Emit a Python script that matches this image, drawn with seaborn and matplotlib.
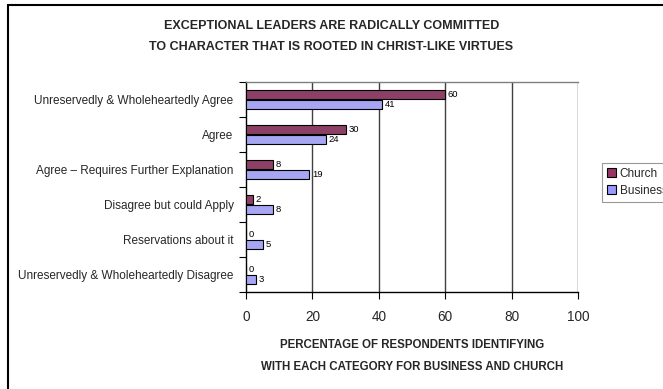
import matplotlib
matplotlib.use("Agg")
import matplotlib.pyplot as plt
import matplotlib.patches as mpatches
from matplotlib.ticker import FixedLocator
import seaborn as sns
import pandas as pd

sns.set_theme(style="white")
plt.rcParams["font.family"] = ["Liberation Sans", "DejaVu Sans"]

categories = [
    "Unreservedly & Wholeheartedly Agree",
    "Agree",
    "Agree \u2013 Requires Further Explanation",
    "Disagree but could Apply",
    "Reservations about it",
    "Unreservedly & Wholeheartedly Disagree",
]
church = [60, 30, 8, 2, 0, 0]
business = [41, 24, 19, 8, 5, 3]
series = ["Church", "Business"]
colors = ["#993366", "#9999FF"]
x_ticks = [0, 20, 40, 60, 80, 100]

df = pd.DataFrame({
    "category": categories * 2,
    "value": church + business,
    "series": ["Church"] * len(categories) + ["Business"] * len(categories),
})

fig = plt.figure(figsize=(6.63, 3.89), dpi=100)
ax = fig.add_axes([246 / 663, 1 - 292 / 389, (578 - 246) / 663, (292 - 82) / 389])

sns.barplot(
    data=df, y="category", x="value", hue="series", order=categories,
    hue_order=series, palette=colors, orient="h", width=0.57,
    edgecolor="black", linewidth=0.8, ax=ax, legend=False, zorder=3,
)

# value labels at the end of each bar
for cont in ax.containers:
    ax.bar_label(cont, labels=[f"{int(v)}" for v in cont.datavalues],
                 padding=2, fontsize=6.8, color="black")

ax.set_xlim(0, 100)
ax.set_ylim(len(categories) - 0.5, -0.5)
ax.set_xticks(x_ticks)
ax.set_xticklabels([str(t) for t in x_ticks], fontsize=9.8)
ax.tick_params(axis="x", direction="out", length=5, width=0.8, color="black",
               bottom=True, pad=8)
ax.tick_params(axis="y", which="major", length=0, pad=9, labelsize=8.5)
ax.yaxis.set_minor_locator(FixedLocator([i - 0.5 for i in range(len(categories) + 1)]))
ax.tick_params(axis="y", which="minor", direction="out", length=5, width=0.8,
               color="black", left=True)

for t in x_ticks[1:]:
    ax.axvline(t, color="#404040", linewidth=1, zorder=1)

for side in ["left", "bottom"]:
    ax.spines[side].set_color("black")
    ax.spines[side].set_linewidth(1)
ax.spines["top"].set_color("#808080")
ax.spines["top"].set_linewidth(1)
ax.spines["right"].set_visible(False)

ax.set_ylabel("")
ax.set_xlabel("PERCENTAGE OF RESPONDENTS IDENTIFYING\nWITH EACH CATEGORY FOR BUSINESS AND CHURCH",
              fontsize=8.3, fontweight="bold", linespacing=2.1, labelpad=11)

fig.text(0.5, 1 - 36.5 / 389,
         "EXCEPTIONAL LEADERS ARE RADICALLY COMMITTED\nTO CHARACTER THAT IS ROOTED IN CHRIST-LIKE VIRTUES",
         ha="center", va="center", fontsize=9, fontweight="bold", linespacing=1.9)

handles = [mpatches.Patch(facecolor=c, edgecolor="black", linewidth=0.8, label=s)
           for c, s in zip(colors, series)]
leg = fig.legend(handles=handles, loc="upper left",
                 bbox_to_anchor=(602 / 663, 1 - 163 / 389),
                 fontsize=8.5, frameon=True, fancybox=False,
                 handlelength=0.8, handleheight=0.8, handletextpad=0.3,
                 borderpad=0.4, labelspacing=0.45, borderaxespad=0)
leg.get_frame().set_edgecolor("#808080")
leg.get_frame().set_linewidth(0.8)

# outer chart border
fig.patches.append(mpatches.Rectangle((8 / 663, -0.05), 1.2, 1 - 5 / 389 + 0.05,
                                      transform=fig.transFigure, fill=False,
                                      edgecolor="black", linewidth=1.5))

fig.savefig("out.png", dpi=100)
